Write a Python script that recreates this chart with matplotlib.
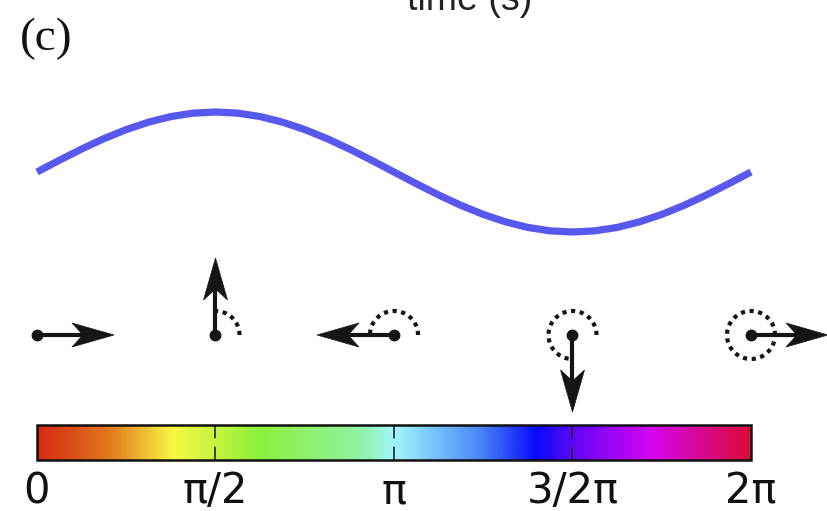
import numpy as np
import matplotlib
matplotlib.use('Agg')
import matplotlib.pyplot as plt
from matplotlib.colors import LinearSegmentedColormap
from matplotlib.patches import Polygon, Rectangle

# ============================================================
# 数据
# ============================================================
# 振荡波形（相位采样点与读出的归一化幅值）
wave_phase = np.linspace(0, 2 * np.pi, 33)
wave_values = [0.0, 0.195, 0.383, 0.556, 0.707, 0.831, 0.924, 0.981, 1.0,
               0.981, 0.924, 0.831, 0.707, 0.556, 0.383, 0.195, 0.0,
               -0.195, -0.383, -0.556, -0.707, -0.831, -0.924, -0.981, -1.0,
               -0.981, -0.924, -0.831, -0.707, -0.556, -0.383, -0.195, 0.0]

# 相量箭头所在相位
phasor_phase = [0, np.pi / 2, np.pi, 3 * np.pi / 2, 2 * np.pi]

# 色条刻度
tick_phase = [0, np.pi / 2, np.pi, 3 * np.pi / 2, 2 * np.pi]
tick_labels = ['0', 'π/2', 'π', '3/2π', '2π']
dash_phase = [np.pi / 2, np.pi, 3 * np.pi / 2]

# 色条颜色节点（相位占 2π 的比例）
cbar_stops = [0.0, 0.10, 0.19, 0.25, 0.31, 0.45, 0.50, 0.62, 0.70, 0.76, 0.86, 1.0]
cbar_colors = ['#d52a12', '#e2781e', '#f8f843', '#c4f43e', '#8cf03c', '#8ff3a0',
               '#a2f6fc', '#4a88f8', '#0a0af8', '#6a06f8', '#d404f2', '#dc0a36']

# ============================================================
# 画布：x 轴以弧度为单位，y 与 x 等比例
# ============================================================
W, H = 828, 511
x0_px, x1_px = 37, 751                 # 色条左右边界 (像素)
s = (x1_px - x0_px) / (2 * np.pi)      # 每弧度像素数

def px(v):
    """从左侧起算的像素 -> 数据 x"""
    return (v - x0_px) / s

def py(v):
    """从顶部起算的像素 -> 数据 y"""
    return -v / s

fig = plt.figure(figsize=(W / 100, H / 100), dpi=100)
ax = fig.add_axes([0, 0, 1, 1])
ax.set_xlim(px(0), px(W))
ax.set_ylim(py(H), 0)
ax.axis('off')

# 正弦曲线
wave_center, wave_amp = py(172), 60 / s
ax.plot(wave_phase, wave_center + wave_amp * np.array(wave_values),
        color='#5858ee', lw=5.2, solid_capstyle='butt', solid_joinstyle='round')

# 相量
row_y = py(335)
arrow_len = 77 / s
head_len, head_half, notch = 42 / s, 12 / s, 11 / s
arc_r = 24 / s
dark = '#151515'
for ph in phasor_phase:
    cx, cy = ph, row_y
    d = np.array([np.cos(ph), np.sin(ph)])
    n = np.array([-d[1], d[0]])
    c = np.array([cx, cy])
    # 虚线弧
    if ph > 0:
        t = np.linspace(0, ph, 100)
        ax.plot(cx + arc_r * np.cos(t), cy + arc_r * np.sin(t), color=dark,
                lw=3.0, linestyle=(0, (1.0, 1.1)), dash_capstyle='butt', zorder=2)
    tip = c + arrow_len * d
    base = tip - head_len * d
    nt = base + notch * d
    ax.plot([cx, nt[0]], [cy, nt[1]], color=dark, lw=3.0,
            solid_capstyle='butt', zorder=3)
    head = Polygon([tip, base + head_half * n, nt, base - head_half * n],
                   closed=True, facecolor=dark, edgecolor=dark, lw=0.5, zorder=4)
    ax.add_patch(head)
    ax.plot(cx, cy, 'o', color=dark, ms=7.5, zorder=5)

# 色条
bar_top, bar_bot = py(425), py(460)
cmap = LinearSegmentedColormap.from_list('phase', list(zip(cbar_stops, cbar_colors)))
grad = np.linspace(0, 1, 512).reshape(1, -1)
ax.imshow(grad, cmap=cmap, aspect='auto', extent=[0, 2 * np.pi, bar_bot, bar_top],
          interpolation='bilinear', zorder=1)
ax.add_patch(Rectangle((0, bar_bot), 2 * np.pi, bar_top - bar_bot, fill=False,
                       edgecolor='#111111', lw=1.8, zorder=3))
for ph in dash_phase:
    ax.plot([ph, ph], [bar_top, bar_bot], color='#222222', lw=1.2,
            linestyle=(0, (8, 5)), zorder=2)

for ph, lab in zip(tick_phase, tick_labels):
    ax.text(ph, py(503), lab, ha='center', va='baseline', fontsize=30,
            family=['Liberation Sans Narrow', 'DejaVu Sans'], color='#111111')

# 面板标签与被裁掉的坐标轴标题
ax.text(px(20), py(50), '(c)', ha='left', va='baseline',
        fontsize=34, family=['Liberation Serif', 'DejaVu Serif'], color='#111111')
ax.text(px(470), py(10), 'time (s)', ha='center', va='baseline',
        fontsize=27, family=['Liberation Sans', 'DejaVu Sans'], color='#222222')

plt.savefig('out.png', dpi=100)
plt.close()
